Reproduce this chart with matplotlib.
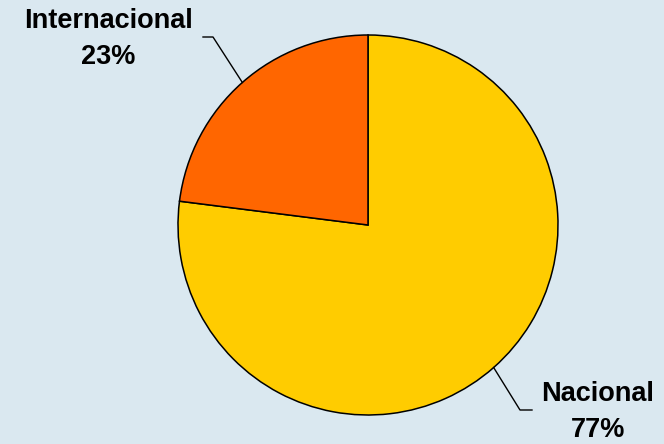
import numpy as np
import matplotlib.pyplot as plt

labels = ['Nacional', 'Internacional']
values = [77, 23]
colors = ['#FFCC00', '#FF6600']

W, H = 664, 444
fig = plt.figure(figsize=(W / 100, H / 100), dpi=100)
fig.patch.set_facecolor('#DAE8F0')
ax = fig.add_axes([0, 0, 1, 1])

cx, cy, r = 368, H - 225, 190
wedges, _ = ax.pie(values, colors=colors, startangle=90, counterclock=False,
                   center=(cx, cy), radius=r, frame=True,
                   wedgeprops=dict(edgecolor='black', linewidth=1.1))
ax.set_xlim(0, W)
ax.set_ylim(0, H)
ax.set_aspect('equal')
ax.axis('off')

# etiquetas con línea guía
text_pos = {'Nacional': (598, H - 412), 'Internacional': (108, H - 39)}
elbow = {'Nacional': [(520, H - 410), (532, H - 410)],
         'Internacional': [(213, H - 37), (203, H - 37)]}
for w, lab, v in zip(wedges, labels, values):
    ang = np.deg2rad((w.theta1 + w.theta2) / 2)
    x0, y0 = cx + r * np.cos(ang), cy + r * np.sin(ang)
    pts = [(x0, y0)] + elbow[lab]
    xs, ys = zip(*pts)
    ax.plot(xs, ys, color='black', linewidth=1.0)
    tx, ty = text_pos[lab]
    ax.text(tx, ty, f'{lab}\n{v}%', ha='center', va='center', fontsize=19.5,
            fontweight='bold', family='Liberation Sans', linespacing=1.5)

fig.savefig('out.png', dpi=100, facecolor=fig.get_facecolor())
